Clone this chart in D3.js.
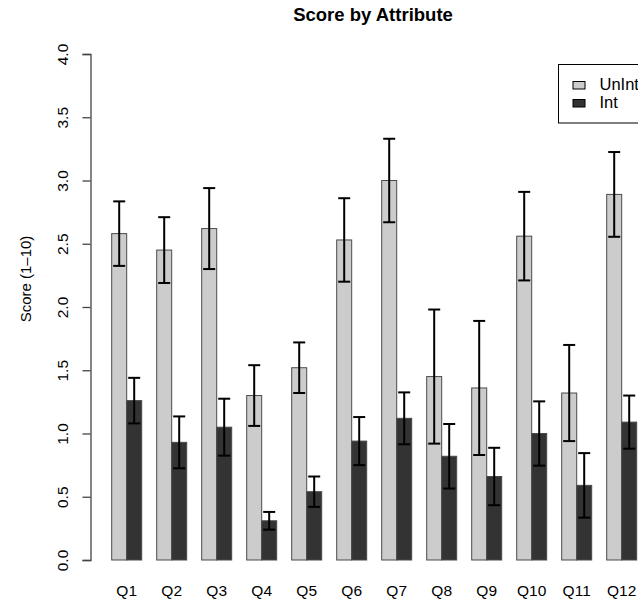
<!DOCTYPE html>
<html>
<head>
<meta charset="utf-8">
<script src="https://cdn.jsdelivr.net/npm/d3@7"></script>
<style>
  html, body { margin: 0; padding: 0; background: #fff; }
  svg { display: block; font-family: "Liberation Sans", Arial, Helvetica, sans-serif; }
</style>
</head>
<body>
<svg id="chart" width="638" height="600"></svg>
<script>
// Mean scores per question, with standard-error half widths
const questions = ["Q1","Q2","Q3","Q4","Q5","Q6","Q7","Q8","Q9","Q10","Q11","Q12"];
const seriesNames = ["UnInt", "Int"];
const unintMeans = [2.58, 2.45, 2.62, 1.30, 1.52, 2.53, 3.00, 1.45, 1.36, 2.56, 1.32, 2.89];
const unintErr   = [0.255, 0.26, 0.32, 0.24, 0.20, 0.33, 0.33, 0.53, 0.53, 0.35, 0.38, 0.335];
const intMeans   = [1.26, 0.93, 1.05, 0.31, 0.54, 0.94, 1.12, 0.82, 0.66, 1.00, 0.59, 1.09];
const intErr     = [0.18, 0.205, 0.225, 0.07, 0.12, 0.19, 0.205, 0.255, 0.227, 0.254, 0.255, 0.21];
const yTicks = [0, 0.5, 1, 1.5, 2, 2.5, 3, 3.5, 4];

const fills = { "UnInt": "#cccccc", "Int": "#333333" };

const rows = questions.map((q, i) => ({
  q,
  values: [
    { s: "UnInt", v: unintMeans[i], e: unintErr[i] },
    { s: "Int",   v: intMeans[i],   e: intErr[i] }
  ]
}));

const svg = d3.select("#chart");

const x0 = d3.scaleBand().domain(questions)
  .range([111.7, 636.7]).paddingInner(1/3).paddingOuter(0);
const x1 = d3.scaleBand().domain(seriesNames).range([0, x0.bandwidth()]);
const y = d3.scaleLinear().domain([0, 4]).range([560, 54]);

// Title
svg.append("text")
  .attr("x", 373).attr("y", 21)
  .attr("text-anchor", "middle")
  .attr("font-size", 18.5).attr("font-weight", "bold").attr("fill", "#000")
  .text("Score by Attribute");

// Y axis
const yAxis = svg.append("g")
  .attr("transform", "translate(90.5,0)")
  .call(d3.axisLeft(y).tickValues(yTicks).tickSize(8).tickFormat(d3.format(".1f")));
yAxis.select(".domain").attr("stroke", "#444").attr("stroke-width", 1.3);
yAxis.selectAll(".tick line").attr("stroke", "#444").attr("stroke-width", 1.3);
yAxis.selectAll(".tick text")
  .attr("font-size", 15.5).attr("fill", "#000")
  .attr("text-anchor", "middle")
  .attr("x", null).attr("dy", null)
  .attr("transform", "translate(-22.5,0) rotate(-90)");

svg.append("text")
  .attr("transform", "translate(31,279) rotate(-90)")
  .attr("text-anchor", "middle")
  .attr("font-size", 15).attr("fill", "#000")
  .text("Score (1\u201310)");

// Bars
const groups = svg.append("g").selectAll("g")
  .data(rows).join("g")
  .attr("transform", d => `translate(${x0(d.q)},0)`);

groups.selectAll("rect")
  .data(d => d.values).join("rect")
  .attr("x", d => x1(d.s))
  .attr("y", d => y(d.v))
  .attr("width", x1.bandwidth())
  .attr("height", d => y(0) - y(d.v))
  .attr("fill", d => fills[d.s])
  .attr("stroke", "#4a4a4a")
  .attr("stroke-width", 1);

// Error bars
const capHalf = 6;
const eb = groups.selectAll("g.err")
  .data(d => d.values).join("g").attr("class", "err")
  .attr("stroke", "#000").attr("stroke-width", 2);
eb.append("line")
  .attr("x1", d => x1(d.s) + x1.bandwidth() / 2)
  .attr("x2", d => x1(d.s) + x1.bandwidth() / 2)
  .attr("y1", d => y(d.v + d.e))
  .attr("y2", d => y(d.v - d.e));
eb.append("line")
  .attr("x1", d => x1(d.s) + x1.bandwidth() / 2 - capHalf)
  .attr("x2", d => x1(d.s) + x1.bandwidth() / 2 + capHalf)
  .attr("y1", d => y(d.v + d.e)).attr("y2", d => y(d.v + d.e));
eb.append("line")
  .attr("x1", d => x1(d.s) + x1.bandwidth() / 2 - capHalf)
  .attr("x2", d => x1(d.s) + x1.bandwidth() / 2 + capHalf)
  .attr("y1", d => y(d.v - d.e)).attr("y2", d => y(d.v - d.e));

// Category labels
svg.append("g").selectAll("text")
  .data(questions).join("text")
  .attr("x", d => x0(d) + x0.bandwidth() / 2)
  .attr("y", 596)
  .attr("text-anchor", "middle")
  .attr("font-size", 15.5).attr("fill", "#000")
  .text(d => d);

// Legend
const legend = svg.append("g");
legend.append("rect")
  .attr("x", 558.5).attr("y", 64.5)
  .attr("width", 100).attr("height", 58.5)
  .attr("fill", "#fff").attr("stroke", "#000").attr("stroke-width", 1);
const items = legend.selectAll("g.item")
  .data(seriesNames).join("g").attr("class", "item")
  .attr("transform", (d, i) => `translate(0,${i * 18})`);
items.append("rect")
  .attr("x", 573).attr("y", 81.5)
  .attr("width", 12).attr("height", 7.5)
  .attr("fill", d => fills[d])
  .attr("stroke", "#000").attr("stroke-width", 1);
items.append("text")
  .attr("x", 599.5).attr("y", 89.5)
  .attr("font-size", 16.5).attr("fill", "#000")
  .text(d => d);
</script>
</body>
</html>
